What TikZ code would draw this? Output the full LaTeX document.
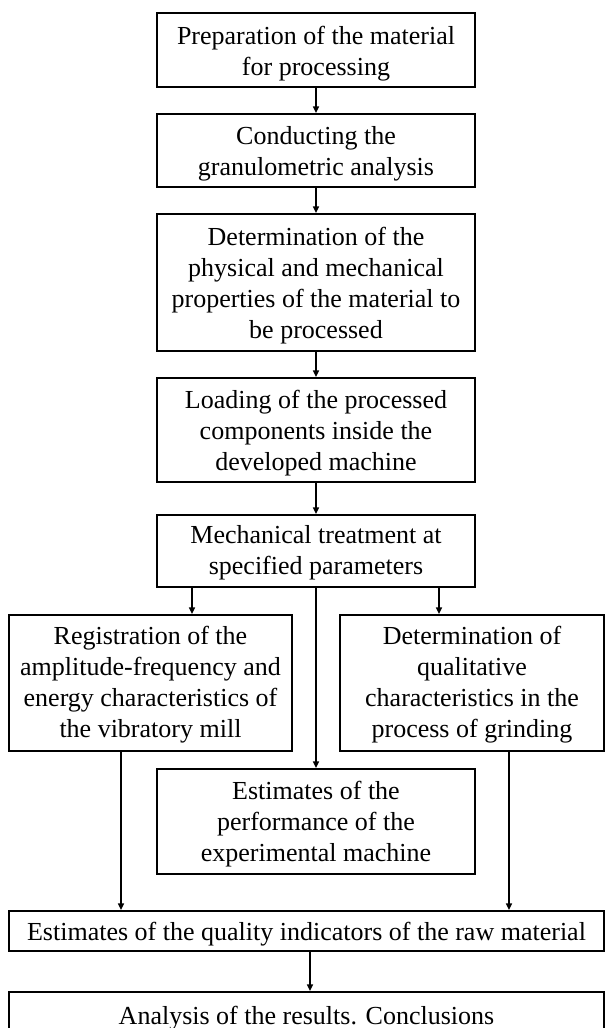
\documentclass[tikz,border=0pt]{standalone}
\usepackage{fontspec}
\setmainfont{Liberation Serif}
\usetikzlibrary{arrows.meta}
\begin{document}
\begin{tikzpicture}[x=0.75pt,y=-0.75pt,
  box/.style={draw=black, line width=1.5pt, inner sep=0pt},
  txt/.style={inner sep=0pt, align=center,
    font=\fontsize{19.5pt}{23.4pt}\selectfont},
  arr/.style={draw=black, line width=1.1pt, -{Triangle[length=5pt,width=4.5pt]}}]
\useasboundingbox (0,0) rectangle (605,1028);
\clip (0,0) rectangle (605,1028);
\fill[white] (0,0) rectangle (605,1028);
% boxes
\node[box, minimum width=238.5pt, minimum height=55.5pt] (b1) at (316,50) {};
\node[box, minimum width=238.5pt, minimum height=54.75pt] (b2) at (316,150.5) {};
\node[box, minimum width=238.5pt, minimum height=102.75pt] (b3) at (316,282.5) {};
\node[box, minimum width=238.5pt, minimum height=78pt] (b4) at (316,430) {};
\node[box, minimum width=238.5pt, minimum height=54pt] (b5) at (316,551) {};
\node[box, minimum width=212.25pt, minimum height=102pt] (L) at (150.5,683) {};
\node[box, minimum width=198pt, minimum height=102pt] (R) at (472,683) {};
\node[box, minimum width=238.5pt, minimum height=78.75pt] (C) at (316,821.5) {};
\node[box, minimum width=446.25pt, minimum height=30pt] (Q) at (306.5,931) {};
\node[box, minimum width=446.25pt, minimum height=39.75pt] (F) at (306.5,1018.5) {};
% texts
\node[txt] (b1t) at ([yshift=-2.6pt]b1.center) {Preparation of the material\\for processing};
\node[txt] (b2t) at ([yshift=-2.6pt]b2.center) {Conducting the\\granulometric analysis};
\node[txt] (b3t) at ([yshift=-2.2pt]b3.center) {Determination of the\\physical and mechanical\\properties of the material to\\be processed};
\node[txt] (b4t) at ([yshift=-2.2pt]b4.center) {Loading of the processed\\components inside the\\developed machine};
\node[txt] (b5t) at ([yshift=-1.5pt]b5.center) {Mechanical treatment at\\specified parameters};
\node[txt] (Lt) at ([yshift=-1.2pt]L.center) {Registration of the\\amplitude-frequency and\\energy characteristics of\\the vibratory mill};
\node[txt] (Rt) at ([yshift=-1.2pt]R.center) {Determination of\\qualitative\\characteristics in the\\process of grinding};
\node[txt] (Ct) at ([yshift=-2pt]C.center) {Estimates of the\\performance of the\\experimental machine};
\node[txt] (Qt) at ([yshift=-2pt]Q.center) {Estimates of the quality indicators of the raw material};
\node[txt] (Ft) at (F.center) {Analysis of the results. Conclusions};
% connectors
\draw[arr] (b1) -- (b2);
\draw[arr] (b2) -- (b3);
\draw[arr] (b3) -- (b4);
\draw[arr] (b4) -- (b5);
\coordinate (xl) at (192,0);
\coordinate (xr) at (439,0);
\coordinate (xq1) at (121,0);
\coordinate (xq2) at (509,0);
\coordinate (xf) at (310,0);
\draw[arr] (xl |- b5.south) -- (xl |- L.north);
\draw[arr] (xr |- b5.south) -- (xr |- R.north);
\draw[arr] (b5) -- (C);
\draw[arr] (xq1 |- L.south) -- (xq1 |- Q.north);
\draw[arr] (xq2 |- R.south) -- (xq2 |- Q.north);
\draw[arr] (xf |- Q.south) -- (xf |- F.north);
\end{tikzpicture}
\end{document}
